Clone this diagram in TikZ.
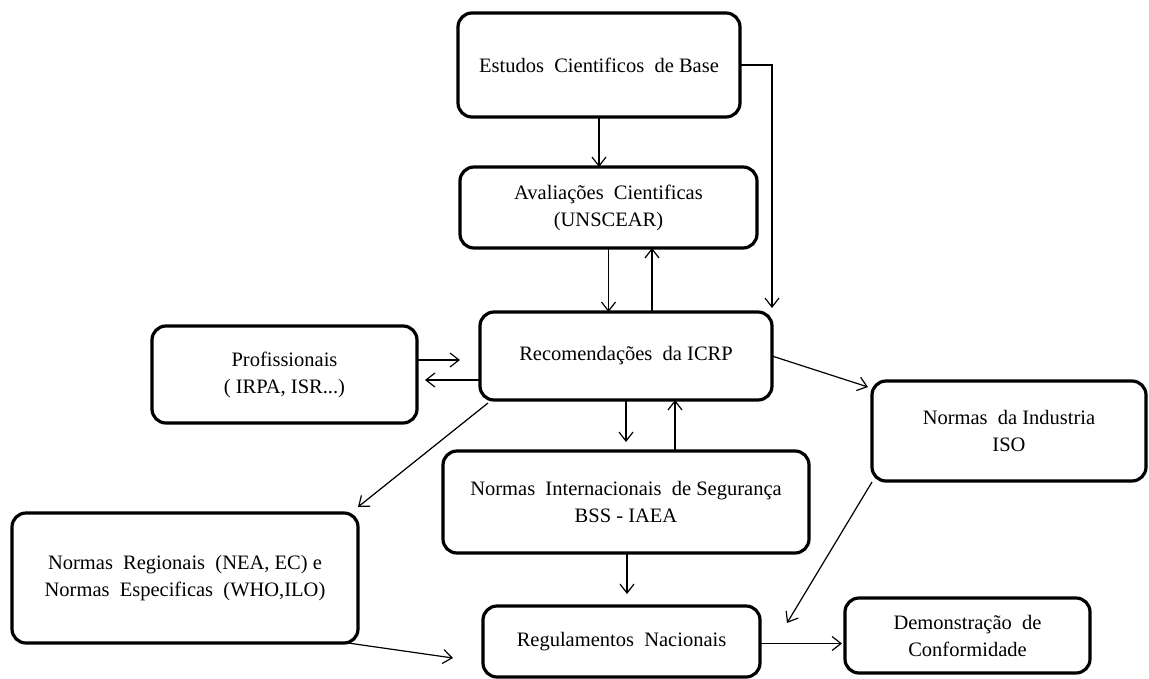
\documentclass[tikz,border=0pt]{standalone}
\usepackage{fontspec}
\setmainfont{Liberation Serif}
\usetikzlibrary{arrows.meta}
\begin{document}
\begin{tikzpicture}[x=1pt,y=-1pt,
  box/.style={draw, line width=3.2pt, rounded corners=14pt, align=center,
    inner sep=0pt, outer sep=0pt, font=\fontsize{20.5}{27}\selectfont},
  arr/.style={draw, line width=1.2pt, -{Straight Barb[length=9pt,width=14pt,line width=1.2pt]}}]
\useasboundingbox (0,0) rectangle (1149,678);
\node[box, minimum width=282pt, minimum height=104pt] (est) at (599,65) {Estudos~ Cientificos~ de Base};
\node[box, minimum width=297pt, minimum height=81pt] (ava) at (608.5,207.5) {Avaliações~ Cientificas\\(UNSCEAR)};
\node[box, minimum width=292pt, minimum height=88pt] (rec) at (626,356) {Recomendações~ da ICRP};
\node[box, minimum width=265pt, minimum height=97pt] (pro) at (284.5,374.5) {Profissionais\\( IRPA, ISR...)};
\node[box, minimum width=274pt, minimum height=100pt] (ind) at (1009,431) {Normas~ da Industria\\ISO};
\node[box, minimum width=366pt, minimum height=102pt] (int) at (626,502) {Normas~ Internacionais~ de Segurança\\BSS - IAEA};
\node[box, minimum width=346pt, minimum height=130pt] (regi) at (185,578) {Normas~ Regionais~ (NEA, EC) e\\Normas~ Especificas~ (WHO,ILO)};
\node[box, minimum width=277pt, minimum height=71pt] (regu) at (621.5,641.5) {Regulamentos~ Nacionais};
\node[box, minimum width=245pt, minimum height=75pt] (demo) at (967.5,635.5) {Demonstração~ de\\Conformidade};
\coordinate (side) at (est.east -| rec.north east);
% connectors
\draw[arr] (est.south) -- (est.south |- ava.north);
\draw[arr] (est.east) -- (side) -- ([shift={(0,-4)}]rec.north east);
\draw[arr] (ava.south) -- (ava.south |- rec.north);
\draw[arr] ([shift={(26,0)}]rec.north) -- ([shift={(26,0)}]rec.north |- ava.south);
\draw[arr, shorten >=20pt] (pro.east |- 0,360) -- (rec.west |- 0,360);
\draw[arr, shorten >=8pt] (rec.west |- 0,380) -- (pro.east |- 0,380);
\draw[arr] ([shift={(8,3)}]rec.south west) -- ([shift={(0,-6)}]regi.north east);
\draw[arr] (rec.east) -- ([shift={(-4,6)}]ind.north west);
\draw[arr, shorten >=9pt] (rec.south) -- (rec.south |- int.north);
\draw[arr] ([shift={(49,0)}]int.north) -- ([shift={(49,0)}]int.north |- rec.south);
\draw[arr, shorten >=12pt] ([shift={(1,0)}]int.south) -- ([shift={(1,0)}]int.south |- regu.north);
\draw[arr] ([shift={(0,1)}]ind.south west) -- ([shift={(27,17)}]regu.north east);
\draw[arr] ([shift={(-10,0)}]regi.south east) -- ([shift={(-30,-19)}]regu.south west);
\draw[arr, shorten >=3pt] ([shift={(0,2)}]regu.east) -- ([shift={(0,2)}]regu.east -| demo.west);
\end{tikzpicture}
\end{document}
